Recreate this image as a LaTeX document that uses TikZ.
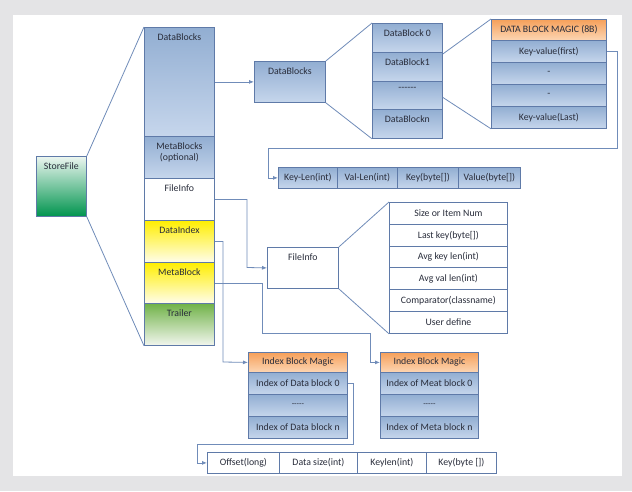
\documentclass[tikz,border=0pt]{standalone}
\usepackage{fontspec}
\setmainfont{Carlito}
\usetikzlibrary{arrows.meta}
\definecolor{bdr}{RGB}{95,122,168}
\definecolor{ln}{RGB}{112,140,185}
\definecolor{txt}{RGB}{40,44,58}
\definecolor{blueT}{RGB}{146,174,210}
\definecolor{blueB}{RGB}{198,214,236}
\definecolor{orT}{RGB}{246,160,90}
\definecolor{orB}{RGB}{252,214,180}
\definecolor{yeT}{RGB}{255,238,0}
\definecolor{yeB}{RGB}{255,253,235}
\definecolor{grT}{RGB}{112,178,72}
\definecolor{grB}{RGB}{242,246,238}
\definecolor{sfT}{RGB}{236,246,240}
\definecolor{sfB}{RGB}{0,148,78}
\definecolor{bgg}{RGB}{228,228,230}
\begin{document}
\begin{tikzpicture}[x=1pt,y=-1pt,
  font=\fontsize{9.8}{11}\selectfont, text=txt,
  box/.style={draw=bdr, line width=0.8pt, inner sep=0pt, anchor=north west, align=center},
  bl/.style={box, top color=blueT, bottom color=blueB},
  wh/.style={box, fill=white},
  orng/.style={box, top color=orT, bottom color=orB},
  yel/.style={box, top color=yeT, bottom color=yeB},
  grn/.style={box, top color=grT, bottom color=grB},
  sfc/.style={box, top color=sfT, bottom color=sfB},
  top/.style={label={[anchor=north, yshift=-3pt, align=center, text=txt]north:#1}},
  ln/.style={draw=ln, line width=0.8pt},
  arr/.style={ln, -{Latex[length=5pt,width=4pt]}}]
% background
\fill[bgg] (0,0) rectangle (632,491);
\fill[white] (13,15) rectangle (622,476);
\useasboundingbox (0,0) rectangle (632,491);

% StoreFile
\node[sfc, minimum width=50, minimum height=60, top=StoreFile] (sf) at (36,156) {};

% column
\node[bl, minimum width=70, minimum height=109, top=DataBlocks] (cDB) at (144,27) {};
\node[bl, minimum width=70, minimum height=42, top={MetaBlocks\\(optional)}] (cMB) at (144,136) {};
\node[wh, minimum width=70, minimum height=42, top=FileInfo] (cFI) at (144,178) {};
\node[yel, minimum width=70, minimum height=42, top=DataIndex] (cDI) at (144,220) {};
\node[yel, minimum width=70, minimum height=41, top=MetaBlock] (cMt) at (144,262) {};
\node[grn, minimum width=70, minimum height=42, top=Trailer] (cTr) at (144,303) {};

\draw[ln] (sf.north east) -- (cDB.north west);
\draw[ln] (sf.south east) -- (cTr.south west);

% DataBlocks detail
\node[bl, minimum width=71, minimum height=41, top=DataBlocks] (db2) at (254,61) {};
\draw[arr] (cDB.east) -- (db2.west);

\node[bl, minimum width=70, minimum height=29, top={DataBlock 0}] (dl0) at (372,23) {};
\node[bl, minimum width=70, minimum height=29, top={DataBlock1}] (dl1) at (372,52) {};
\node[bl, minimum width=70, minimum height=28, top={-{}-{}-{}-{}-{}-}] (dl2) at (372,81) {};
\node[bl, minimum width=70, minimum height=29, top={DataBlockn}] (dl3) at (372,109) {};
\draw[ln] (db2.north east) -- (dl0.north west);
\draw[ln] (db2.south east) -- (dl3.south west);

% key-value list
\node[orng, minimum width=115, minimum height=21] (kv0) at (491,19) {DATA BLOCK MAGIC (8B)};
\node[bl, minimum width=115, minimum height=22] (kv1) at (491,40) {Key-value(first)};
\node[bl, minimum width=115, minimum height=22] (kv2) at (491,62) {-};
\node[bl, minimum width=115, minimum height=22] (kv3) at (491,84) {-};
\node[bl, minimum width=115, minimum height=22] (kv4) at (491,106) {Key-value(Last)};
\draw[ln] ([yshift=-2pt]dl1.north east) -- (kv0.north west);
\draw[ln] ([yshift=-2pt]dl2.east) -- (kv4.south west);

% key/value layout
\node[bl, minimum width=59, minimum height=21] (kl1) at (278,167) {Key-Len(int)};
\node[bl, minimum width=60, minimum height=21] (kl2) at (337,167) {Val-Len(int)};
\node[bl, minimum width=61, minimum height=21] (kl3) at (397,167) {Key(byte[])};
\node[bl, minimum width=62, minimum height=21] (kl4) at (458,167) {Value(byte[])};
\coordinate (c1) at (617,148);
\coordinate (c2) at (268,148);
\draw[arr] (kv1.east) -| (c1) -- (c2) |- (kl1.west);

% FileInfo detail
\node[wh, minimum width=71, minimum height=41, top=FileInfo] (fi2) at (267,247) {};
\coordinate (c3) at (247,267.5);
\draw[arr] (cFI.east) -| (c3) -- (fi2.west);

\node[wh, minimum width=118, minimum height=22] (f1) at (389,202) {Size or Item Num};
\node[wh, minimum width=118, minimum height=22] (f2) at (389,224) {Last key(byte[])};
\node[wh, minimum width=118, minimum height=21] (f3) at (389,246) {Avg key len(int)};
\node[wh, minimum width=118, minimum height=22] (f4) at (389,267) {Avg val len(int)};
\node[wh, minimum width=118, minimum height=22] (f5) at (389,289) {Comparator(classname)};
\node[wh, minimum width=118, minimum height=22] (f6) at (389,311) {User define};
\draw[ln] (fi2.north east) -- (f1.north west);
\draw[ln] (fi2.south east) -- (f6.south west);

% index blocks
\node[orng, minimum width=99, minimum height=20] (ia0) at (248,352) {Index Block Magic};
\node[bl, minimum width=99, minimum height=22] (ia1) at (248,372) {Index of Data block 0};
\node[bl, minimum width=99, minimum height=22] (ia2) at (248,394) {\footnotesize -{}-{}-{}-{}-};
\node[bl, minimum width=99, minimum height=22] (ia3) at (248,416) {Index of Data block n};

\node[orng, minimum width=98, minimum height=20] (ib0) at (380,352) {Index Block Magic};
\node[bl, minimum width=98, minimum height=22] (ib1) at (380,372) {Index of Meat block 0};
\node[bl, minimum width=98, minimum height=22] (ib2) at (380,394) {\footnotesize -{}-{}-{}-{}-};
\node[bl, minimum width=98, minimum height=22] (ib3) at (380,416) {Index of Meta block n};

\coordinate (c4) at (223,362);
\draw[arr] (cDI.east) -| (c4) -- (ia0.west);
\coordinate (c5) at (262,333);
\coordinate (c6) at (370,333);
\draw[arr] (cMt.east) -| (c5) -- (c6) |- (ib0.west);

% index entry layout
\node[wh, minimum width=72, minimum height=21] (e1) at (207,452) {Offset(long)};
\node[wh, minimum width=78, minimum height=21] (e2) at (279,452) {Data size(int)};
\node[wh, minimum width=69, minimum height=21] (e3) at (357,452) {Keylen(int)};
\node[wh, minimum width=70, minimum height=21] (e4) at (426,452) {Key(byte [])};
\coordinate (c7) at (353,444);
\coordinate (c8) at (197,444);
\draw[arr] (ia1.east) -| (c7) -- (c8) |- (e1.west);
\end{tikzpicture}
\end{document}
